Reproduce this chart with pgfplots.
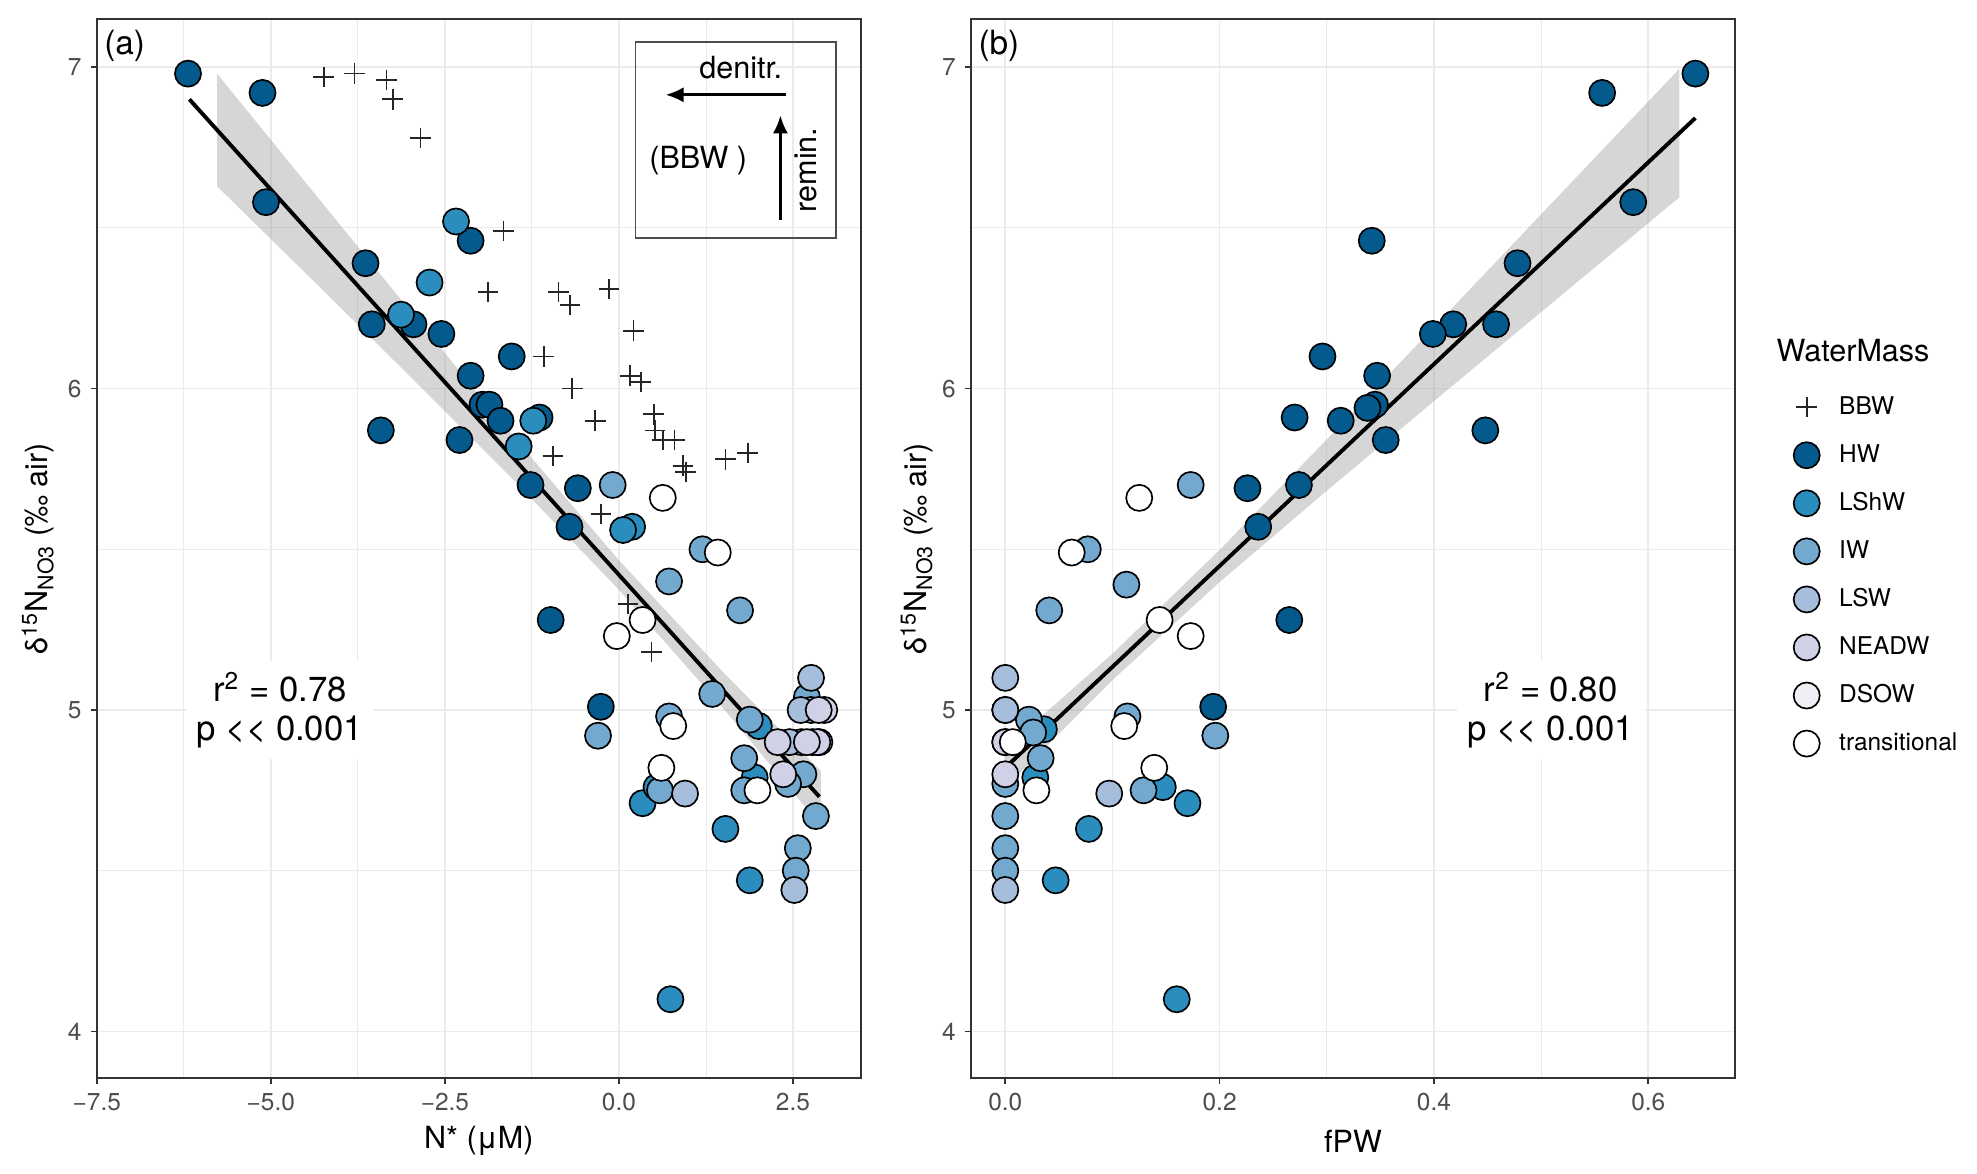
\documentclass[border=0pt]{standalone}
\usepackage{fontspec}
\setmainfont{TeX Gyre Heros}
\usepackage{pgfplots}
\pgfplotsset{compat=1.18}
\usetikzlibrary{arrows.meta}

\definecolor{cHW}{HTML}{045A8D}
\definecolor{cLShW}{HTML}{2B8CBE}
\definecolor{cIW}{HTML}{74A9CF}
\definecolor{cLSW}{HTML}{A6BDDB}
\definecolor{cNEADW}{HTML}{D0D1E6}
\definecolor{cDSOW}{HTML}{F1EEF6}
\definecolor{gridc}{HTML}{EBEBEB}
\definecolor{framec}{HTML}{333333}
\definecolor{tickc}{HTML}{4D4D4D}
\definecolor{bandc}{HTML}{999999}

\pgfplotsset{
  panel/.style={
    scale only axis, width=275.04pt, height=381.24pt,
    anchor=south west,
    ymin=3.855, ymax=7.15,
    ytick={4,5,6,7}, minor ytick={4.5,5.5,6.5},
    grid=both,
    major grid style={gridc, line width=0.6pt},
    minor grid style={gridc, line width=0.3pt},
    axis line style={framec, line width=0.5pt},
    tick style={framec, line width=0.6pt},
    major tick length=2pt, minor tick length=0pt,
    tick align=outside, tick pos=left,
    ticklabel style={font=\fontsize{8.8}{10}\selectfont, text=tickc},
    label style={font=\fontsize{11}{13}\selectfont},
    /pgf/number format/assume math mode=true,
    ylabel={δ\textsuperscript{15}N\textsubscript{NO3} (‰ air)},
  },
  pt/.style={only marks, mark=*, mark size=4.7pt,
    mark options={draw=black, line width=0.6pt, fill=#1}},
  bbw/.style={only marks, mark=+, mark size=3.7pt,
    mark options={draw=black!85, line width=0.6pt}},
}

\begin{document}
\begin{tikzpicture}
\path[use as bounding box] (0,0) rectangle (711.72pt,422.64pt);

% ---------- panel (a) ----------
\begin{axis}[panel, at={(34.85pt,34.56pt)},
  xmin=-7.5, xmax=3.475,
  xtick={-7.5,-5,-2.5,0,2.5}, xticklabels={−7.5,−5.0,−2.5,0.0,2.5},
  minor xtick={-6.25,-3.75,-1.25,1.25},
  xlabel={N* (μM)},
  xlabel style={at={(axis description cs:0.5,-0.0595)}, anchor=center},
  ylabel style={at={(axis description cs:-0.077,0.5)}, anchor=center},
]
% confidence band
\addplot[draw=none, fill=bandc, fill opacity=0.4] coordinates {
  (-5.77,6.979) (-4.5,6.641) (-3,6.242) (-1.5,5.847) (0,5.466) (1.5,5.117) (2.9,4.810)
  (2.9,4.640) (1.5,5.005) (0,5.374) (-1.5,5.713) (-3,6.038) (-4.5,6.359) (-5.77,6.629)
} -- cycle;
\addplot[black, line width=1.4pt] coordinates {(-6.17,6.90) (2.88,4.73)};

% BBW
\addplot[bbw] coordinates {
  (-4.24,6.97) (-3.80,6.98) (-3.34,6.96) (-3.25,6.90) (-2.85,6.78) (-1.66,6.49)
  (-1.88,6.30) (-0.87,6.30) (-0.70,6.26) (-0.14,6.31) (0.21,6.18) (-1.08,6.10)
  (0.16,6.04) (0.32,6.02) (-0.67,6.00) (-0.34,5.90) (0.50,5.92) (0.52,5.87)
  (0.63,5.84) (0.80,5.84) (0.92,5.76) (0.96,5.74) (1.53,5.78) (1.85,5.80)
  (-0.95,5.79) (-0.26,5.61) (0.13,5.33) (0.47,5.18)
};
% HW
\addplot[pt=cHW] coordinates {
  (-6.19,6.98) (-5.12,6.92) (-5.07,6.58) (-3.64,6.39) (-3.55,6.20) (-2.95,6.20)
  (-2.55,6.17) (-3.42,5.87) (-2.13,6.46) (-1.54,6.10) (-2.13,6.04) (-1.96,5.95)
  (-1.86,5.95) (-1.70,5.90) (-1.14,5.91) (-2.29,5.84) (-1.27,5.70) (-0.59,5.69)
  (-0.71,5.57) (-0.98,5.28) (-0.26,5.01)
};
% LShW
\addplot[pt=cLShW] coordinates {
  (-2.34,6.52) (-2.72,6.33) (-3.13,6.23) (-1.23,5.90) (-1.44,5.82) (0.19,5.57)
  (0.06,5.56) (0.34,4.71) (0.54,4.76) (1.53,4.63) (1.88,4.47) (0.74,4.10)
  (2.01,4.95) (1.95,4.79)
};
% IW
\addplot[pt=cIW] coordinates {
  (-0.09,5.70) (1.20,5.50) (0.72,5.40) (1.74,5.31) (1.34,5.05) (-0.30,4.92)
  (0.72,4.98) (1.80,4.85) (1.88,4.97) (2.83,4.67) (2.57,4.57) (2.54,4.50)
  (2.65,4.80) (2.43,4.77) (1.80,4.75) (0.59,4.75) (2.70,5.04)
};
% LSW
\addplot[pt=cLSW] coordinates {
  (2.76,5.10) (0.95,4.74) (2.52,4.44) (2.88,4.90) (2.78,4.90) (2.62,4.90)
  (2.45,4.90) (2.76,5.00) (2.61,5.00)
};
% NEADW
\addplot[pt=cNEADW] coordinates {
  (2.95,5.00) (2.87,5.00) (2.85,4.90) (2.70,4.90) (2.28,4.90) (2.36,4.80)
};
% transitional
\addplot[pt=white] coordinates {
  (0.63,5.66) (1.42,5.49) (0.34,5.28) (-0.03,5.23) (0.78,4.95) (0.61,4.82) (1.99,4.75)
};

% inset box
\draw[draw=tickc, line width=0.5pt] (axis cs:0.24,6.469) rectangle (axis cs:3.12,7.078);
\node[font=\fontsize{11}{13}\selectfont] at (axis cs:1.75,7.0) {denitr.};
\draw[-{Latex[length=6.5pt,width=5.5pt]}, line width=1pt] (axis cs:2.40,6.914) -- (axis cs:0.67,6.914);
\node[font=\fontsize{11}{13}\selectfont] at (axis cs:1.14,6.71) {(BBW )};
\draw[-{Latex[length=6.5pt,width=5.5pt]}, line width=1pt] (axis cs:2.32,6.525) -- (axis cs:2.32,6.85);
\node[font=\fontsize{11}{13}\selectfont, rotate=90] at (axis cs:2.68,6.68) {remin.};

\node[fill=white, align=center, inner sep=4pt, font=\fontsize{12.5}{14}\selectfont]
  at (axis cs:-4.87,5.0) {r\textsuperscript{2} = 0.78\\p <\kern0pt< 0.001};
\node[anchor=north west, inner sep=1pt, font=\fontsize{12}{14}\selectfont]
  at (rel axis cs:0,1) [xshift=1.5pt, yshift=-3pt] {(a)};
\end{axis}

% ---------- panel (b) ----------
\begin{axis}[panel, at={(349.56pt,34.56pt)},
  xmin=-0.032, xmax=0.681,
  xtick={0,0.2,0.4,0.6}, xticklabels={0.0,0.2,0.4,0.6},
  minor xtick={0.1,0.3,0.5},
  xlabel={fPW},
  xlabel style={at={(axis description cs:0.5,-0.0595)}, anchor=center},
  ylabel style={at={(axis description cs:-0.071,0.5)}, anchor=center},
  legend style={at={(axis description cs:1.076,0.651)}, anchor=north west,
    draw=none, fill=none, inner sep=0pt, row sep=4.3pt, column sep=5pt,
    font=\fontsize{8.8}{10}\selectfont,
    nodes={inner sep=2pt, text height=7pt, text depth=2pt}},
  legend cell align=left,
  legend image code/.code={\draw[mark repeat=2,mark phase=2,#1]
    plot coordinates {(0pt,0pt) (5pt,0pt) (10pt,0pt)};},
]
\addplot[draw=none, fill=bandc, fill opacity=0.4, forget plot] coordinates {
  (0,4.881) (0.1,5.175) (0.2,5.498) (0.3,5.842) (0.4,6.191) (0.5,6.542) (0.629,6.995)
  (0.629,6.595) (0.5,6.238) (0.4,5.961) (0.3,5.682) (0.2,5.398) (0.1,5.093) (0,4.759)
} -- cycle;
\addplot[black, line width=1.4pt, forget plot] coordinates {(0.005,4.836) (0.644,6.842)};

\addlegendimage{bbw}
\addlegendentry{BBW}
% HW
\addplot[pt=cHW] coordinates {
  (0.644,6.98) (0.557,6.92) (0.586,6.58) (0.478,6.39) (0.458,6.20) (0.418,6.20)
  (0.399,6.17) (0.342,6.46) (0.296,6.10) (0.347,6.04) (0.345,5.95) (0.338,5.94)
  (0.313,5.90) (0.270,5.91) (0.355,5.84) (0.448,5.87) (0.274,5.70) (0.226,5.69)
  (0.236,5.57) (0.265,5.28) (0.194,5.01)
};
\addlegendentry{HW}
% LShW
\addplot[pt=cLShW] coordinates {
  (0.036,4.94) (0.028,4.79) (0.078,4.63) (0.047,4.47) (0.147,4.76) (0.170,4.71) (0.160,4.10)
};
\addlegendentry{LShW}
% IW
\addplot[pt=cIW] coordinates {
  (0.173,5.70) (0.077,5.50) (0.113,5.39) (0.041,5.31) (0.022,4.97) (0.026,4.93)
  (0.033,4.85) (0,4.77) (0,4.67) (0,4.57) (0,4.50) (0.129,4.75) (0.114,4.98)
  (0.196,4.92) (0,5.00)
};
\addlegendentry{IW}
% LSW
\addplot[pt=cLSW] coordinates {
  (0,5.10) (0,5.00) (0.097,4.74) (0,4.44) (0,4.90)
};
\addlegendentry{LSW}
% NEADW
\addplot[pt=cNEADW] coordinates {(0,4.90) (0,4.80)};
\addlegendentry{NEADW}
\addlegendimage{pt=cDSOW}
\addlegendentry{DSOW}
% transitional
\addplot[pt=white] coordinates {
  (0.125,5.66) (0.062,5.49) (0.144,5.28) (0.173,5.23) (0.111,4.95) (0.139,4.82)
  (0.029,4.75) (0.007,4.90)
};
\addlegendentry{transitional}

\node[fill=white, align=center, inner sep=4pt, font=\fontsize{12.5}{14}\selectfont]
  at (axis cs:0.509,5.0) {r\textsuperscript{2} = 0.80\\p <\kern0pt< 0.001};
\node[anchor=north west, inner sep=1pt, font=\fontsize{12}{14}\selectfont]
  at (rel axis cs:0,1) [xshift=1.5pt, yshift=-3pt] {(b)};
\end{axis}

\node[anchor=west, inner sep=0pt, font=\fontsize{11}{13}\selectfont] at (639.4pt,296.3pt) {WaterMass};
\end{tikzpicture}
\end{document}
